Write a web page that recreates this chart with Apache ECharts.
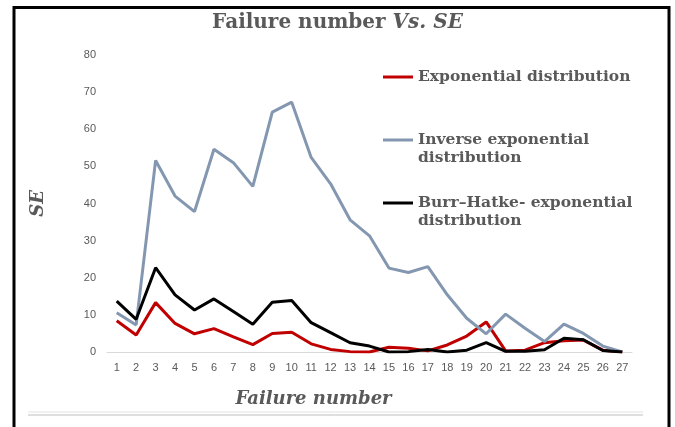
<!DOCTYPE html>
<html>
<head>
<meta charset="utf-8">
<style>
  html, body { margin: 0; padding: 0; background: #fff; }
  #chart { width: 675px; height: 427px; }
</style>
<script src="https://cdn.jsdelivr.net/npm/echarts@6/dist/echarts.min.js"></script>
</head>
<body>
<div id="chart"></div>
<script>
// Failure numbers 1..27
var failures = ['1', '2', '3', '4', '5', '6', '7', '8', '9', '10', '11', '12', '13', '14',
  '15', '16', '17', '18', '19', '20', '21', '22', '23', '24', '25', '26', '27'];

// SE values
var expSE = [8.4, 4.6, 13.3, 7.7, 4.9, 6.3, 4.1, 2.0, 5.0, 5.3, 2.2, 0.7, 0.1, 0,
  1.3, 1.0, 0.3, 1.9, 4.3, 8.1, 0.3, 0.5, 2.5, 3.0, 3.2, 0.5, 0];
var invExpSE = [10.6, 7.3, 51.6, 42.0, 37.8, 54.6, 51.0, 44.6, 64.6, 67.3, 52.4, 45.3, 35.6, 31.3,
  22.6, 21.4, 23.0, 15.4, 9.1, 4.9, 10.2, 6.4, 2.8, 7.5, 5.0, 1.6, 0];
var burrSE = [13.7, 8.8, 22.7, 15.4, 11.3, 14.3, 10.9, 7.5, 13.4, 13.9, 7.9, 5.2, 2.5, 1.6,
  0, 0.1, 0.7, 0, 0.5, 2.5, 0.2, 0.2, 0.6, 3.7, 3.3, 0.4, 0];

var seriesNames = ['Exponential distribution', 'Inverse exponential distribution', 'Burr\u2013Hatke- exponential distribution'];
var seriesColors = ['#c00000', '#8497b0', '#000000'];

var serif = 'DejaVu Serif';
var textGray = '#595959';

var chart = echarts.init(document.getElementById('chart'));

// one legend per entry, so the wrapped names can sit where they sit in the picture
function legendFor(i, top, label) {
  return {
    orient: 'vertical',
    left: 383,
    top: top,
    padding: 0,
    icon: 'rect',
    itemWidth: 30,
    itemHeight: 3,
    itemGap: 0,
    selectedMode: false,
    data: [seriesNames[i]],
    formatter: function() { return label; },
    textStyle: {
      fontFamily: serif,
      fontWeight: 'bold',
      fontSize: 15.5,
      lineHeight: 18,
      color: textGray
    }
  };
}

var option = {
  animation: false,
  title: {
    text: '{a|Failure number }{b|Vs. SE}',
    left: 'center',
    top: 8,
    textStyle: {
      rich: {
        a: { fontFamily: serif, fontWeight: 'bold', fontSize: 20, color: textGray },
        b: { fontFamily: serif, fontWeight: 'bold', fontStyle: 'italic', fontSize: 20, color: textGray }
      }
    }
  },
  legend: [
    legendFor(0, 68, 'Exponential distribution'),
    // blank first line keeps the icon level with the first line of text
    legendFor(1, 113, ' \nInverse exponential\ndistribution'),
    legendFor(2, 176, ' \nBurr\u2013Hatke- exponential\ndistribution')
  ],
  grid: { left: 107, right: 43, top: 55, bottom: 75 },
  xAxis: {
    type: 'category',
    data: failures,
    boundaryGap: true,
    name: 'Failure number',
    nameLocation: 'middle',
    nameGap: 38,
    nameTextStyle: {
      fontFamily: serif, fontWeight: 'bold', fontStyle: 'italic', fontSize: 18, color: textGray,
      padding: [0, 112, 0, 0]
    },
    axisLine: { lineStyle: { color: '#d9d9d9', width: 1 } },
    axisTick: { show: false },
    axisLabel: { color: textGray, fontSize: 11, fontFamily: 'Liberation Sans', margin: 10, interval: 0 }
  },
  yAxis: {
    type: 'value',
    min: 0,
    max: 80,
    interval: 10,
    name: 'SE',
    nameLocation: 'middle',
    nameGap: 60,
    nameRotate: 90,
    nameTextStyle: { fontFamily: serif, fontWeight: 'bold', fontStyle: 'italic', fontSize: 18, color: textGray },
    splitLine: { show: false },
    axisLine: { show: false },
    axisTick: { show: false },
    axisLabel: { color: textGray, fontSize: 11, fontFamily: 'Liberation Sans', margin: 11 }
  },
  series: [
    { name: seriesNames[0], type: 'line', data: expSE, showSymbol: false,
      color: seriesColors[0], lineStyle: { width: 3, color: seriesColors[0] } },
    { name: seriesNames[1], type: 'line', data: invExpSE, showSymbol: false,
      color: seriesColors[1], lineStyle: { width: 3, color: seriesColors[1] } },
    { name: seriesNames[2], type: 'line', data: burrSE, showSymbol: false,
      color: seriesColors[2], lineStyle: { width: 3, color: seriesColors[2] } }
  ],
  graphic: [
    // outer frame (cut off at the bottom)
    { type: 'rect', shape: { x: 14, y: 7.5, width: 655, height: 440 },
      style: { fill: null, stroke: '#000', lineWidth: 3 }, silent: true },
    // double rule under the chart
    { type: 'line', shape: { x1: 28, y1: 412, x2: 643, y2: 412 },
      style: { stroke: '#e3e3e3', lineWidth: 1 }, silent: true },
    { type: 'line', shape: { x1: 28, y1: 415, x2: 643, y2: 415 },
      style: { stroke: '#bfbfbf', lineWidth: 1 }, silent: true }
  ]
};

chart.setOption(option);
</script>
</body>
</html>
